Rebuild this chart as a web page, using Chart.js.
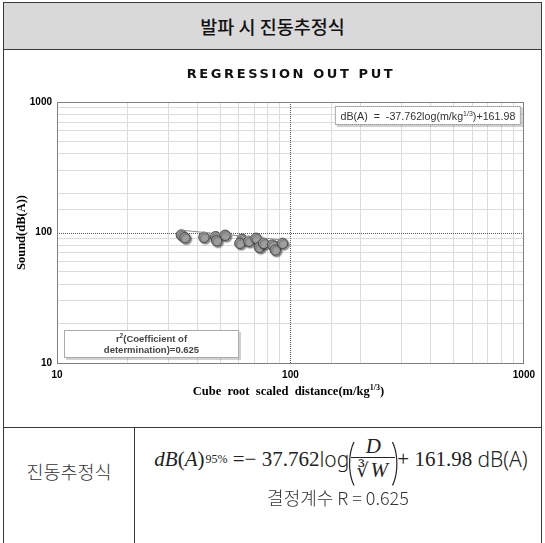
<!DOCTYPE html>
<html><head><meta charset="utf-8">
<script src="https://cdn.jsdelivr.net/npm/chart.js@4.4.1/dist/chart.umd.min.js"></script>
<style>
html,body{margin:0;padding:0;background:#fff;width:545px;height:543px;overflow:hidden}
#frame{position:absolute;left:3px;top:2px;width:537px;height:560px;border:1px solid #3a3a3a;}
#head{position:absolute;left:0;top:0;width:537px;height:46px;background:#d9d9d9;border-bottom:1px solid #3a3a3a;font-family:"Noto Sans CJK KR";font-size:18.5px;font-weight:500;color:#111;text-align:center;line-height:46px}
#chartbox{position:absolute;left:0;top:47px;width:537px;height:377px}
#row{position:absolute;left:0;top:424px;width:537px;height:140px;border-top:1px solid #3a3a3a}
#lcell{position:absolute;left:0;top:0;width:130px;height:140px;border-right:1px solid #3a3a3a}
#lcell div{position:absolute;left:0;top:29px;width:130px;height:28px;line-height:28px;text-align:center;font-family:"Noto Sans CJK KR";font-weight:300;font-size:18.5px;color:#333}
#formula{position:absolute;left:134px;top:6px;width:406px;height:50px;display:flex;align-items:center;justify-content:center;font-family:"Liberation Serif";font-size:21px;color:#222;white-space:nowrap}
.it{font-style:italic}
.sans{font-family:"Noto Sans";font-weight:300}
sub{font-size:12px;vertical-align:-5px;margin-left:1px;font-style:normal}
.paren{font-family:"Noto Sans";font-weight:200;font-size:50px;line-height:50px;display:inline-block;transform:scaleX(0.6);margin:0 -4px}
.frac{display:inline-flex;flex-direction:column;align-items:center;margin:0 2px}
.num{display:block;line-height:22px;padding:0 5px;border-bottom:1px solid #222;width:100%;text-align:center}
.den{display:block;line-height:25px}
.root{font-family:"DejaVu Serif";font-size:19px}
.over{border-top:1px solid #222;padding:0 2px}
#r2{position:absolute;left:131px;top:56px;width:406px;height:26px;line-height:26px;text-align:center;font-family:"Noto Sans CJK KR";font-weight:300;font-size:18px;color:#333}
</style>
</head><body>
<div id="frame">
  <div id="head">발파 시 진동추정식</div>
  <div id="chartbox"><canvas id="c" width="537" height="377"></canvas></div>
  <div id="row">
    <div id="lcell"><div>진동추정식</div></div>
    <div id="formula"><span class="it">dB</span>(<span class="it">A</span>)<sub>95%</sub>&nbsp;=−&nbsp;37.762<span class="sans">log</span><span class="paren">(</span><span class="frac"><span class="num it">D</span><span class="den"><span class="root">∛</span><span class="it over">W</span></span></span><span class="paren">)</span>+&nbsp;161.98&nbsp;<span class="sans">dB(A)</span></div>
    <div id="r2">결정계수 R = 0.625</div>
  </div>
</div>
<script>
// ---- data ----
const distance = [34.1, 35.3, 42.6, 47.8, 48.3, 52.5, 62.1, 60.7, 66.3, 71.2, 73.6, 76.7, 83.8, 86.1, 92.5];
const sound    = [95.7, 91.2, 91.9, 92.9, 86.5, 95.2, 88.7, 82.6, 85.6, 90.3, 77.0, 82.6, 80.2, 73.4, 82.6];
const fitX = [33.5, 93];
const fitY = [104.4, 87.6];
const xTickLabels = [10, 100, 1000];
const yTickLabels = [10, 100, 1000];
const chartTitle = 'REGRESSION OUT PUT';
const yTitle = 'Sound(dB(A))';
const xTitle = ['Cube  root  scaled  distance(m/kg', '1/3', ')'];
const eqText = ['dB(A)  =  -37.762log(m/kg', '1/3', ')+161.98'];
const r2Text = ['r', '2', '(Coefficient of', 'determination)=0.625'];

const isMajor = (v, list) => list.some(t => Math.abs(v - t) < 1e-6);

function drawSup(ctx, parts, cx, y, font, supFont, rise) {
  ctx.font = font; const w0 = ctx.measureText(parts[0]).width; const w2 = ctx.measureText(parts[2]).width;
  ctx.font = supFont; const w1 = ctx.measureText(parts[1]).width;
  let x = cx - (w0 + w1 + w2) / 2;
  ctx.textAlign = 'left';
  ctx.font = font; ctx.fillText(parts[0], x, y); x += w0;
  ctx.font = supFont; ctx.fillText(parts[1], x, y - rise); x += w1;
  ctx.font = font; ctx.fillText(parts[2], x, y);
}
function dottedBox(ctx, x, y, w, h) {
  ctx.save();
  ctx.fillStyle = 'rgba(0,0,0,0.18)';
  ctx.fillRect(x + 2, y + 2, w, h);
  ctx.fillStyle = '#fff';
  ctx.fillRect(x, y, w, h);
  ctx.strokeStyle = '#555'; ctx.lineWidth = 1; ctx.setLineDash([1, 1]);
  ctx.strokeRect(x + 0.5, y + 0.5, w - 1, h - 1);
  ctx.restore();
}

const deco = {
  id: 'deco',
  beforeDatasetsDraw(chart) {
    const {ctx, chartArea: a, scales: {x, y}} = chart;
    ctx.save();
    ctx.strokeStyle = '#555'; ctx.lineWidth = 1; ctx.setLineDash([1, 1]);
    const px = Math.round(x.getPixelForValue(100)) + 0.5;
    const py = Math.round(y.getPixelForValue(100)) + 0.5;
    ctx.beginPath(); ctx.moveTo(px, a.top); ctx.lineTo(px, a.bottom); ctx.stroke();
    ctx.beginPath(); ctx.moveTo(a.left, py); ctx.lineTo(a.right, py); ctx.stroke();
    ctx.setLineDash([]); ctx.strokeStyle = '#808080';
    ctx.strokeRect(Math.round(a.left) + 0.5, Math.round(a.top) + 0.5, Math.round(a.width) - 1, Math.round(a.height));
    ctx.restore();
  },
  beforeDatasetDraw(chart, args) {
    if (args.index === 1) {
      const ctx = chart.ctx; ctx.save();
      ctx.shadowColor = 'rgba(0,0,0,0.45)'; ctx.shadowOffsetX = 1.5; ctx.shadowOffsetY = 1.5; ctx.shadowBlur = 1.5;
    }
  },
  afterDatasetDraw(chart, args) { if (args.index === 1) chart.ctx.restore(); },
  afterDraw(chart) {
    const {ctx, chartArea: a} = chart;
    ctx.save();
    ctx.fillStyle = '#111';
    ctx.font = 'bold 13px "DejaVu Sans"';
    ctx.letterSpacing = '2.6px';
    ctx.textAlign = 'center'; ctx.textBaseline = 'middle';
    ctx.fillText(chartTitle, 287, 25);
    ctx.letterSpacing = '0px';
    ctx.textBaseline = 'alphabetic';
    ctx.fillStyle = '#000';
    drawSup(ctx, xTitle, (a.left + a.right) / 2 - 2, 345, 'bold 12.5px "Liberation Serif"', 'bold 8px "Liberation Serif"', 5);
    const bx = a.right - 189, by = a.top + 4;
    dottedBox(ctx, bx, by, 186, 19);
    ctx.fillStyle = '#333';
    drawSup(ctx, eqText, bx + 93, by + 14, '10.7px "Liberation Sans"', '7px "Liberation Sans"', 4);
    const rx = a.left + 7, ry = a.bottom - 33, rw = 175, rh = 28;
    dottedBox(ctx, rx, ry, rw, rh);
    ctx.fillStyle = '#444';
    const f = 'bold 9.5px "Liberation Sans"', sf = 'bold 6.5px "Liberation Sans"';
    ctx.font = f; const w0 = ctx.measureText(r2Text[0]).width, w2 = ctx.measureText(r2Text[2]).width;
    ctx.font = sf; const w1 = ctx.measureText(r2Text[1]).width;
    let sx = rx + rw / 2 - (w0 + w1 + w2) / 2;
    ctx.textAlign = 'left';
    ctx.font = f; ctx.fillText(r2Text[0], sx, ry + 12); sx += w0;
    ctx.font = sf; ctx.fillText(r2Text[1], sx, ry + 8); sx += w1;
    ctx.font = f; ctx.fillText(r2Text[2], sx, ry + 12);
    ctx.textAlign = 'center';
    ctx.fillText(r2Text[3], rx + rw / 2, ry + 23);
    ctx.restore();
  }
};

const gridColor = () => (c) => (c.tick && isMajor(c.tick.value, [100])) ? 'rgba(0,0,0,0)' : '#dcdcdc';

new Chart(document.getElementById('c'), {
  type: 'scatter',
  data: {
    datasets: [
      { type: 'line', data: fitX.map((x, i) => ({x, y: fitY[i]})), borderColor: '#8c8c8c', borderWidth: 1, pointRadius: 0, fill: false, tension: 0 },
      { data: distance.map((x, i) => ({x, y: sound[i]})), backgroundColor: '#9e9e9e', borderColor: '#4a4a4a', borderWidth: 1, pointRadius: 5.2 }
    ]
  },
  options: {
    responsive: false, animation: false, devicePixelRatio: 1,
    layout: {padding: {left: 0, right: 14, top: 52, bottom: 14}},
    plugins: {legend: {display: false}, tooltip: {enabled: false}, title: {display: false}},
    scales: {
      x: {
        type: 'logarithmic', min: 10, max: 1000, position: 'bottom',
        grid: {color: gridColor(), lineWidth: 1, drawTicks: false},
        border: {color: '#808080', width: 1},
        ticks: {autoSkip: false, maxRotation: 0, padding: 6, color: '#000',
          font: {family: 'Liberation Sans', size: 10, weight: 'bold'},
          callback: (v) => isMajor(v, xTickLabels) ? String(Math.round(v)) : ''},
        afterFit: (s) => { s.height = 50; }
      },
      y: {
        type: 'logarithmic', min: 10, max: 1000, position: 'left',
        grid: {color: gridColor(), lineWidth: 1, drawTicks: false},
        border: {color: '#808080', width: 1},
        ticks: {autoSkip: false, padding: 5, color: '#000',
          font: {family: 'Liberation Sans', size: 10, weight: 'bold'},
          callback: (v) => isMajor(v, yTickLabels) ? String(Math.round(v)) : ''},
        title: {display: true, text: yTitle, color: '#000', font: {family: 'Liberation Serif', size: 12.5, weight: 'bold'}, padding: {top: 10, bottom: 0}},
        afterFit: (s) => { s.width = 53; }
      }
    }
  },
  plugins: [deco]
});
</script>
</body></html>
